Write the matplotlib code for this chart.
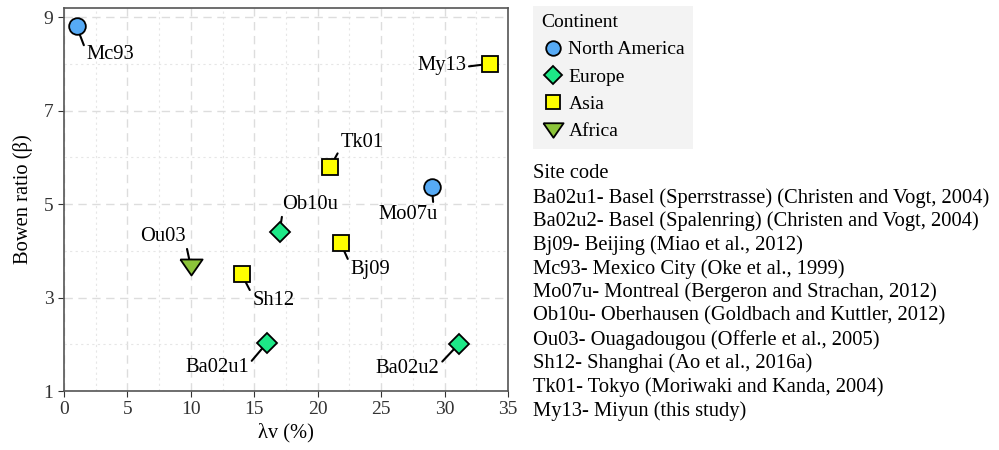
import matplotlib.pyplot as plt
from matplotlib.lines import Line2D
from matplotlib.ticker import MultipleLocator

plt.rcParams['font.family'] = ['Liberation Serif', 'DejaVu Serif']

sites = ['Mc93', 'Mo07u', 'Ba02u1', 'Ba02u2', 'Ob10u', 'Tk01', 'Bj09', 'Sh12', 'My13', 'Ou03']
lam_v = [1, 29, 16, 31.1, 17, 21, 21.8, 14, 33.6, 10]
bowen = [8.8, 5.37, 2.03, 2.0, 4.41, 5.8, 4.17, 3.5, 8.0, 3.66]
continent = ['North America', 'North America', 'Europe', 'Europe', 'Europe',
             'Asia', 'Asia', 'Asia', 'Asia', 'Africa']

continents = ['North America', 'Europe', 'Asia', 'Africa']
# flattened down-pointing triangle like the original
tri_down = [(-1, 0.72), (1, 0.72), (0, -0.72), (-1, 0.72)]
markers = {'North America': 'o', 'Europe': 'D', 'Asia': 's', 'Africa': tri_down}
colors = {'North America': '#56aaf5', 'Europe': '#1de887', 'Asia': '#ffff00', 'Africa': '#8cc43a'}
sizes = {'North America': 12, 'Europe': 10.5, 'Asia': 11, 'Africa': 16}

site_notes = [
    'Ba02u1- Basel (Sperrstrasse) (Christen and Vogt, 2004)',
    'Ba02u2- Basel (Spalenring) (Christen and Vogt, 2004)',
    'Bj09- Beijing (Miao et al., 2012)',
    'Mc93- Mexico City (Oke et al., 1999)',
    'Mo07u- Montreal (Bergeron and Strachan, 2012)',
    'Ob10u- Oberhausen (Goldbach and Kuttler, 2012)',
    'Ou03- Ouagadougou (Offerle et al., 2005)',
    'Sh12- Shanghai (Ao et al., 2016a)',
    'Tk01- Tokyo (Moriwaki and Kanda, 2004)',
    'My13- Miyun (this study)',
]

# label placement: offset in pixels, alignment, leader start on text box
label_pos = {
    'Mc93': ((10, -28), 'left', 'center', (0, 0.6)),
    'My13': ((-24, -2), 'right', 'center', (1, 0.45)),
    'Tk01': ((10, 24), 'left', 'center', (0, 0.2)),
    'Mo07u': ((-24, -18), 'center', 'top', (0.93, 1)),
    'Ob10u': ((3, 27), 'left', 'center', (0, 0.1)),
    'Bj09': ((10, -27), 'left', 'center', (0, 0.75)),
    'Ou03': ((-5, 30), 'right', 'center', (1, 0.15)),
    'Sh12': ((11, -26), 'left', 'center', (0, 0.75)),
    'Ba02u1': ((-18, -25), 'right', 'center', (1, 0.7)),
    'Ba02u2': ((-19, -24), 'right', 'center', (1, 0.7)),
}

fs = 14.8

fig = plt.figure(figsize=(9.99, 4.5), dpi=100)
ax = fig.add_axes([0.064, 0.131, 0.4445, 0.852])

for x, y, c, s in zip(lam_v, bowen, continent, sites):
    ax.plot(x, y, marker=markers[c], markersize=sizes[c], markerfacecolor=colors[c],
            markeredgecolor='black', markeredgewidth=1.3, linestyle='none', zorder=5)
    off, ha, va, rp = label_pos[s]
    ax.annotate(s, xy=(x, y), xytext=off, textcoords='offset pixels', ha=ha, va=va,
                fontsize=fs, zorder=4,
                arrowprops=dict(arrowstyle='-', color='black', lw=1.5,
                                shrinkA=0, shrinkB=0, relpos=rp))

ax.set_xlim(0, 35)
ax.set_ylim(1, 9.2)
ax.xaxis.set_major_locator(MultipleLocator(5))
ax.xaxis.set_minor_locator(MultipleLocator(2.5))
ax.yaxis.set_major_locator(MultipleLocator(2, offset=1))
ax.yaxis.set_minor_locator(MultipleLocator(1))
ax.grid(which='major', color='#dddddd', linestyle=(0, (6, 4)), linewidth=1)
ax.grid(which='minor', color='#e6e6e6', linestyle=(0, (2, 3)), linewidth=0.8)
ax.set_axisbelow(True)
ax.tick_params(which='major', direction='out', length=4, labelsize=14, colors='#333333',
               labelcolor='#333333')
ax.tick_params(which='minor', length=0)
for sp in ax.spines.values():
    sp.set_color('#555555')
    sp.set_linewidth(1.2)
ax.set_xlabel('λv (%)', fontsize=fs, labelpad=3)
ax.set_ylabel('Bowen ratio (β)', fontsize=fs, labelpad=8)

handles = [Line2D([], [], marker=markers[c], markersize=sizes[c] - 1.5, markerfacecolor=colors[c],
                  markeredgecolor='black', markeredgewidth=1.3, linestyle='none')
           for c in continents]
leg = fig.legend(handles, continents, title='Continent', loc='upper left',
                 bbox_to_anchor=(533 / 999, 1 - 6 / 450), frameon=True, fontsize=14,
                 title_fontsize=14, alignment='left', handletextpad=0.2,
                 handlelength=1.2, labelspacing=0.5, borderpad=0.42, borderaxespad=0)
leg.get_frame().set_facecolor('#f0f0f0')
leg.get_frame().set_edgecolor('none')
leg.get_frame().set_boxstyle('square', pad=0)

fig.text(533 / 999, 1 - 174 / 450, 'Site code', fontsize=fs, va='center', ha='left')
for i, note in enumerate(site_notes):
    fig.text(533 / 999, 1 - (174 + (i + 1) * 23.7) / 450, note, fontsize=fs,
             va='center', ha='left')

fig.savefig('out.png', dpi=100)
